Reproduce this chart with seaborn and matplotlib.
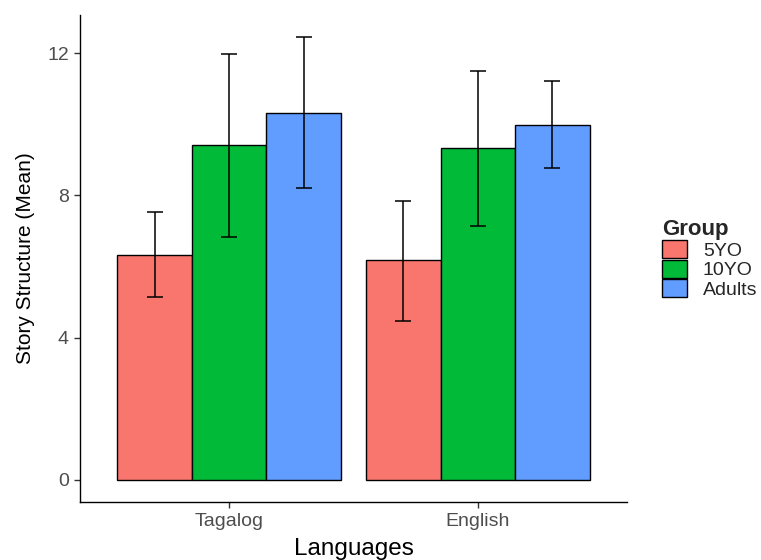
import pandas as pd
import seaborn as sns
import matplotlib.pyplot as plt

languages = ["Tagalog", "English"]
groups = ["5YO", "10YO", "Adults"]
colours = ["#F8766D", "#00BA38", "#619CFF"]

# mean per group, in order Tagalog, English
mean5 = [6.31, 6.17]
mean10 = [9.42, 9.34]
meanAd = [10.32, 9.98]

# error bar ends
low5 = [5.13, 4.46]
high5 = [7.54, 7.85]
low10 = [6.84, 7.15]
high10 = [11.97, 11.49]
lowAd = [8.21, 8.77]
highAd = [12.45, 11.21]

df = pd.DataFrame({
    "Languages": languages * 3,
    "Group": [g for g in groups for _ in languages],
    "Mean": mean5 + mean10 + meanAd,
})
lows = [low5, low10, lowAd]
highs = [high5, high10, highAd]

sns.set_style("ticks")
plt.rcParams["font.family"] = ["Liberation Sans", "DejaVu Sans"]

fig = plt.figure(figsize=(7.61, 5.60), dpi=100)
ax = fig.add_axes([80/761, 1 - 502/560, (627-80)/761, (502-15)/560])

sns.barplot(data=df, x="Languages", y="Mean", hue="Group", order=languages,
            hue_order=groups, palette=colours, edgecolor="black", linewidth=1,
            width=0.9, gap=0, errorbar=None, saturation=1, ax=ax)

for cont, lo, hi in zip(ax.containers, lows, highs):
    for bar, l, h in zip(cont, lo, hi):
        x = bar.get_x() + bar.get_width() / 2
        m = bar.get_height()
        ax.errorbar(x, m, yerr=[[m - l], [h - m]], fmt="none", ecolor="black",
                    elinewidth=1.1, capsize=5.8, capthick=1.1, zorder=5)

ax.set_xlim(-0.6, 1.6)
ax.set_ylim(-0.62, 13.07)
ax.set_yticks([0, 4, 8, 12])
sns.despine(ax=ax)
for s in ["left", "bottom"]:
    ax.spines[s].set_linewidth(1)
    ax.spines[s].set_color("black")
ax.tick_params(axis="both", length=4, width=1, color="#333333",
               labelcolor="#4D4D4D", labelsize=14, pad=4)

ax.set_xlabel("Languages", fontsize=17.5, color="black", labelpad=6)
ax.set_ylabel("Story Structure (Mean)", fontsize=15, color="black", labelpad=9)

sns.move_legend(ax, "upper left", bbox_to_anchor=(662/761, 1 - 219/560),
                bbox_transform=fig.transFigure, frameon=False, title="Group",
                fontsize=14, title_fontsize=16, handlelength=1.3,
                handleheight=1.05, labelspacing=0, handletextpad=0.8,
                borderpad=0, borderaxespad=0, alignment="left")
ax.get_legend().get_title().set_fontweight("bold")

plt.savefig("out.png", dpi=100)
